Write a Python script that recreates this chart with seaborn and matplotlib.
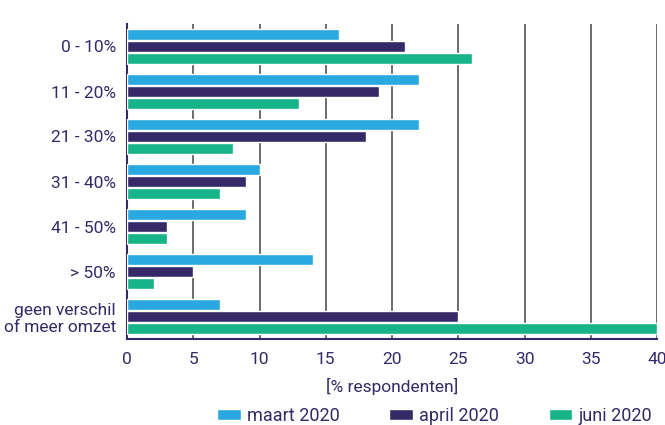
import pandas as pd
import matplotlib.pyplot as plt
import seaborn as sns

categories = ["0 - 10%", "11 - 20%", "21 - 30%", "31 - 40%", "41 - 50%", "> 50%",
              "geen verschil\nof meer omzet"]
series = ["maart 2020", "april 2020", "juni 2020"]
maart = [16, 22, 22, 10, 9, 14, 7]
april = [21, 19, 18, 9, 3, 5, 25]
juni = [26, 13, 8, 7, 3, 2, 40]
colors = ["#29a9df", "#352967", "#17b48a"]
text_color = "#352967"

rows = []
for name, vals in zip(series, [maart, april, juni]):
    for cat, v in zip(categories, vals):
        rows.append({"categorie": cat, "reeks": name, "waarde": v})
df = pd.DataFrame(rows)

sns.set_style("white")
plt.rcParams['font.family'] = ['Roboto', 'DejaVu Sans']

fig = plt.figure(figsize=(6.65, 4.25), dpi=100)
ax = fig.add_axes([127 / 665, 1 - 339 / 425, 530 / 665, 315 / 425])

sns.barplot(data=df, y="categorie", x="waarde", hue="reeks", orient="h",
            palette=colors, width=0.8, gap=0.06, saturation=1, ax=ax,
            order=categories, hue_order=series, zorder=3)

ax.set_xlim(0, 40)
ax.set_ylim(6.5, -0.5)
ax.set_xticks(range(0, 41, 5))
ax.xaxis.grid(True, color="#444444", linewidth=1.1, zorder=0)
ax.yaxis.grid(False)
ax.set_axisbelow(True)
for s in ["top", "right"]:
    ax.spines[s].set_visible(False)
for s in ["left", "bottom"]:
    ax.spines[s].set_color(text_color)
    ax.spines[s].set_linewidth(1.5)
ax.tick_params(axis="both", length=0, labelsize=12.5, labelcolor=text_color, pad=8)
ax.tick_params(axis="x", pad=9)
ax.set_ylabel("")
ax.set_xlabel("[% respondenten]", fontsize=12.5, color=text_color, labelpad=8)
for lbl in ax.get_yticklabels():
    lbl.set_horizontalalignment("right")
    lbl.set_multialignment("right")
    lbl.set_linespacing(1.2)
for lbl in ax.get_xticklabels():
    lbl.set_clip_on(False)

handles, labels = ax.get_legend_handles_labels()
ax.legend_.remove()
leg = fig.legend(handles, labels, loc="lower right", bbox_to_anchor=(1.005, -0.038),
                 ncol=3, frameon=False, fontsize=13, handlelength=1.3,
                 handleheight=0.55, handletextpad=0.35, columnspacing=2.75,
                 labelcolor=text_color)

fig.savefig("out.png", dpi=100)
